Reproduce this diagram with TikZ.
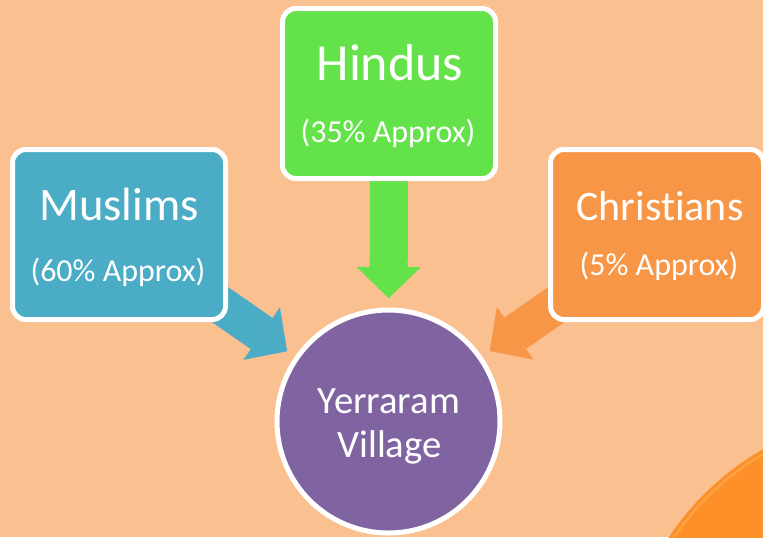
\documentclass[tikz,border=0pt]{standalone}
\usepackage{fontspec}
\setmainfont{Carlito}[Ligatures=NoCommon]
\usetikzlibrary{arrows.meta}
\definecolor{peach}{HTML}{FAC090}
\definecolor{muslimblue}{HTML}{4BACC6}
\definecolor{hindugreen}{HTML}{64E24A}
\definecolor{christorange}{HTML}{F79646}
\definecolor{villagepurple}{HTML}{8064A2}
\definecolor{cornerorange}{HTML}{FD9029}
\definecolor{cornerrim}{HTML}{FFB25E}
\pgfdeclarelayer{canvas}
\pgfdeclarelayer{arrowlayer}
\pgfsetlayers{canvas,arrowlayer,main}
\begin{document}
\begin{tikzpicture}[x=0.75pt,y=-0.75pt,
  box/.style={draw=white,line width=3.75pt,rounded corners=10pt,minimum width=159.75pt,minimum height=127.5pt},
  label/.style={text=white,anchor=base,inner sep=0pt},
  flow/.style={line width=28.5pt,-{Triangle[width=48pt,length=23.25pt,line width=0pt]},shorten >=7pt}]
\useasboundingbox (0,0) rectangle (763,537);
\begin{pgfonlayer}{canvas}
\fill [peach] (0,0) rectangle (763,537);
\begin{scope}
\clip (0,0) rectangle (763,537);
\fill [cornerorange] (900,690) circle [radius=207.75pt];
\draw [cornerrim,opacity=0.6,line width=1.5pt] (900,690) circle [radius=204.5pt];
\end{scope}
\end{pgfonlayer}
% groups
\node [box,fill=muslimblue] (mus) at (119,234.5) {};
\node [box,fill=hindugreen] (hin) at (389,93.5) {};
\node [box,fill=christorange] (chr) at (657,234.5) {};
\node [circle,draw=white,line width=3.75pt,fill=villagepurple,minimum size=167.25pt] (vil) at (388.5,421.5) {};
% texts
\node [label,font=\fontsize{35}{42}\selectfont] (mus-name) at (119,220) {Muslims};
\node [label,font=\fontsize{24}{29}\selectfont] (mus-share) at (118,281) {(60\% Approx)};
\node [label,font=\fontsize{39}{47}\selectfont] (hin-name) at (390,80) {Hindus};
\node [label,font=\fontsize{24}{29}\selectfont] (hin-share) at (388,142) {(35\% Approx)};
\node [label,font=\fontsize{31.5}{38}\selectfont] (chr-name) at (660,220) {Christians};
\node [label,font=\fontsize{24}{29}\selectfont] (chr-share) at (659,275) {(5\% Approx)};
\node [label,font=\fontsize{29}{35}\selectfont] (vil-name) at (389,413) {Yerraram};
\node [label,font=\fontsize{29}{35}\selectfont] (vil-kind) at (389.5,457) {Village};
% arrows
\begin{pgfonlayer}{arrowlayer}
\draw [flow,muslimblue] (mus.center) -- (vil);
\draw [flow,hindugreen] (hin.center) -- (vil);
\draw [flow,christorange] (chr.center) -- (vil);
\end{pgfonlayer}
\end{tikzpicture}
\end{document}
